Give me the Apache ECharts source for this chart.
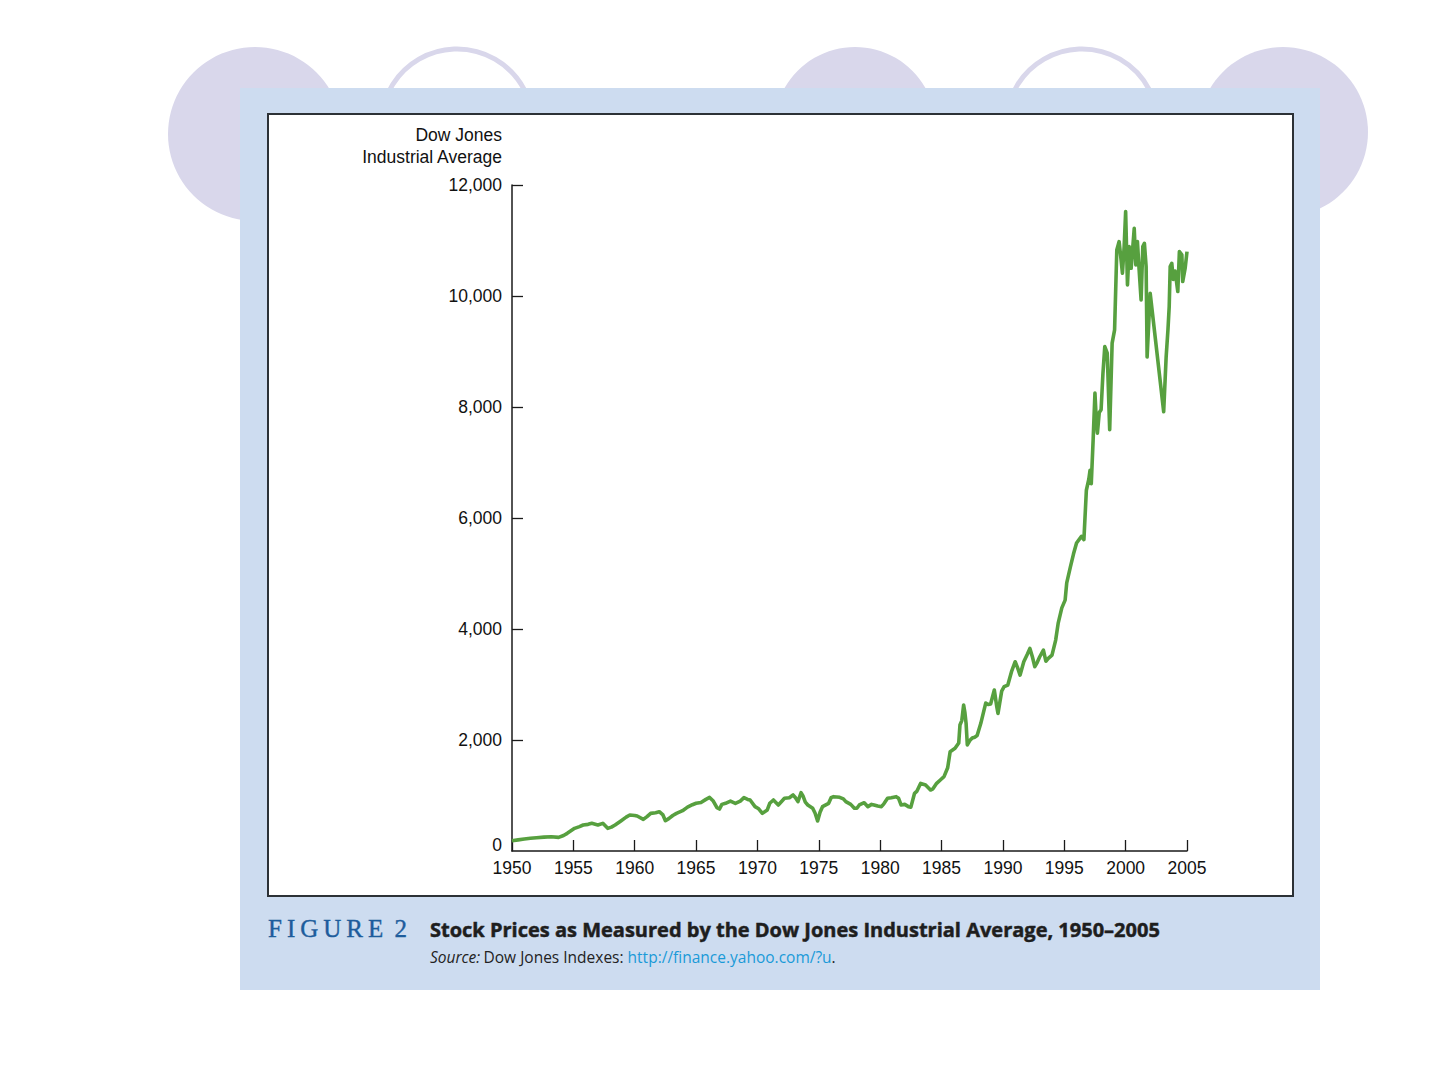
<!DOCTYPE html>
<html>
<head>
<meta charset="utf-8">
<title>Dow Jones Industrial Average, 1950-2005</title>
<script src="https://cdn.jsdelivr.net/npm/echarts@6/dist/echarts.min.js"></script>
<style>
  html, body { margin: 0; padding: 0; background: #fff; }
  #main { width: 1440px; height: 1080px; }
</style>
</head>
<body>
<div id="main"></div>
<script>
// years (fractional) and index level
var years = [
  1950.0, 1950.5, 1951.0, 1951.5, 1952.0, 1952.6, 1953.2, 1953.8, 1954.2, 1954.5,
  1955.1, 1955.5, 1955.8, 1956.2, 1956.5, 1957.0, 1957.4, 1957.8, 1958.1, 1958.4,
  1958.9, 1959.3, 1959.6, 1960.0, 1960.2, 1960.7, 1961.0, 1961.3, 1961.7, 1962.0,
  1962.3, 1962.5, 1962.8, 1963.1, 1963.4, 1963.9, 1964.3, 1964.7, 1965.0, 1965.4,
  1965.8, 1966.1, 1966.4, 1966.7, 1966.9, 1967.1, 1967.4, 1967.8, 1968.2, 1968.6,
  1968.9, 1969.2, 1969.4, 1969.8, 1970.1, 1970.4, 1970.8, 1971.0, 1971.3, 1971.7,
  1972.0, 1972.2, 1972.6, 1972.9, 1973.1, 1973.3, 1973.55, 1973.7, 1973.9, 1974.1,
  1974.5, 1974.7, 1974.9, 1975.1, 1975.3, 1975.8, 1976.0, 1976.2, 1976.7, 1977.0,
  1977.2, 1977.6, 1977.9, 1978.1, 1978.3, 1978.7, 1979.0, 1979.3, 1979.5, 1979.8,
  1980.1, 1980.3, 1980.6, 1980.9, 1981.3, 1981.5, 1981.7, 1982.0, 1982.3, 1982.5,
  1982.8, 1983.0, 1983.3, 1983.7, 1984.1, 1984.3, 1984.6, 1984.9, 1985.2, 1985.5,
  1985.7, 1986.1, 1986.4, 1986.5, 1986.65, 1986.8, 1986.9, 1987.0, 1987.1, 1987.3,
  1987.5, 1987.7, 1987.9, 1988.2, 1988.6, 1988.8, 1989.0, 1989.3, 1989.5, 1989.6,
  1989.9, 1990.1, 1990.4, 1990.7, 1991.0, 1991.2, 1991.4, 1991.7, 1992.0, 1992.2,
  1992.4, 1992.6, 1992.8, 1993.0, 1993.3, 1993.5, 1993.7, 1994.0, 1994.3, 1994.5,
  1994.8, 1995.07, 1995.2, 1995.5, 1995.75, 1996.0, 1996.4, 1996.6, 1996.8, 1997.0,
  1997.1, 1997.2, 1997.35, 1997.5, 1997.6, 1997.7, 1997.85, 1998.0, 1998.15, 1998.3,
  1998.5, 1998.7, 1998.9, 1999.1, 1999.28, 1999.47, 1999.6, 1999.74, 1999.88, 2000.0,
  2000.15, 2000.29, 2000.45, 2000.7, 2000.83, 2000.96, 2001.1, 2001.26, 2001.4, 2001.53,
  2001.67, 2001.75, 2002.0, 2003.1, 2003.3, 2003.45, 2003.55, 2003.63, 2003.76, 2003.88,
  2004.03, 2004.25, 2004.38, 2004.58, 2004.65, 2004.85, 2005.0
];
var djia = [
  186, 200, 216, 230, 240, 250, 258, 246, 280, 318,
  408, 440, 468, 480, 498, 468, 498, 408, 430, 468,
  546, 610, 648, 640, 630, 570, 620, 678, 690, 708,
  650, 546, 588, 640, 678, 726, 790, 834, 860, 875,
  930, 965, 900, 780, 756, 840, 860, 900, 859, 900,
  961, 930, 919, 799, 760, 679, 739, 860, 919, 829,
  900, 949, 960, 1009, 960, 889, 1050, 997, 880, 829,
  769, 680, 541, 700, 799, 859, 960, 979, 967, 940,
  889, 840, 769, 770, 829, 870, 799, 840, 829, 810,
  799, 850, 949, 960, 979, 950, 829, 840, 799, 790,
  1039, 1080, 1219, 1189, 1099, 1120, 1219, 1280, 1339, 1500,
  1790, 1850, 1945, 2270, 2350, 2630, 2500, 2300, 1910, 1990,
  2035, 2050, 2080, 2300, 2665, 2640, 2650, 2900, 2600, 2480,
  2880, 2960, 2990, 3230, 3410, 3300, 3170, 3410, 3550, 3650,
  3500, 3320, 3400, 3500, 3620, 3420, 3470, 3530, 3800, 4100,
  4380, 4520, 4830, 5120, 5350, 5550, 5670, 5610, 6500, 6700,
  6860, 6620, 7400, 8250, 7800, 7530, 7900, 7950, 8600, 9090,
  8970, 7590, 9150, 9390, 10830, 10980, 10710, 10410, 10890, 11520,
  10200, 10890, 10500, 11220, 10560, 10980, 10470, 9930, 10890, 10950,
  10530, 8900, 10050, 7915, 8900, 9400, 9810, 10530, 10590, 10300,
  10450, 10080, 10800, 10740, 10260, 10500, 10800
];
var yearTicks = { min: 1950, max: 2005, step: 5 };
var levelTicks = { min: 0, max: 12000, step: 2000 };

var points = years.map(function (y, i) { return [y, djia[i]]; });

var lavender = '#d9d7eb';
var sans = '"Liberation Sans", Arial, sans-serif';

var chart = echarts.init(document.getElementById('main'), null, { renderer: 'svg' });

var option = {
  backgroundColor: '#ffffff',
  animation: false,
  graphic: [
    // decorative circles behind the panel
    { type: 'circle', z: -30, shape: { cx: 255, cy: 134, r: 87 }, style: { fill: lavender } },
    { type: 'circle', z: -30, shape: { cx: 457, cy: 125, r: 76 }, style: { fill: 'none', stroke: lavender, lineWidth: 5 } },
    { type: 'circle', z: -30, shape: { cx: 855, cy: 128, r: 81 }, style: { fill: lavender } },
    { type: 'circle', z: -30, shape: { cx: 1082, cy: 125, r: 76 }, style: { fill: 'none', stroke: lavender, lineWidth: 5 } },
    { type: 'circle', z: -30, shape: { cx: 1283, cy: 132, r: 85 }, style: { fill: lavender } },
    // blue panel + white chart box
    { type: 'rect', z: -20, shape: { x: 240, y: 88, width: 1080, height: 902 }, style: { fill: '#cddcf0' } },
    { type: 'rect', z: -10, shape: { x: 268, y: 114, width: 1025, height: 782 }, style: { fill: '#ffffff', stroke: '#2c3136', lineWidth: 2 } },
    // axis title
    {
      type: 'text', x: 502, y: 124, z: 5,
      style: {
        text: 'Dow Jones\nIndustrial Average',
        font: '17.5px ' + sans, fill: '#111', align: 'right', verticalAlign: 'top', lineHeight: 22
      }
    },
    // the "0" sits a little above the x axis in the original
    {
      type: 'text', x: 502, y: 845, z: 5,
      style: { text: '0', font: '17.5px ' + sans, fill: '#111', align: 'right', verticalAlign: 'middle' }
    },
    // caption
    {
      type: 'text', x: 268, y: 928, z: 5,
      style: {
        text: 'F\u2009I\u2009G\u2009U\u2009R\u2009E\u2009 2',
        font: '25px "Liberation Serif", "Times New Roman", serif', fill: '#1d5c9c', verticalAlign: 'middle',
        stroke: '#1d5c9c', lineWidth: 0.4
      }
    },
    {
      type: 'text', x: 430, y: 929, z: 5,
      style: {
        text: 'Stock Prices as Measured by the Dow Jones Industrial Average, 1950\u20132005',
        font: 'bold 20px "Open Sans", sans-serif', fill: '#1e1e1e', verticalAlign: 'middle',
        stroke: '#1e1e1e', lineWidth: 0.5
      }
    },
    {
      type: 'text', x: 430, y: 957, z: 5,
      style: {
        text: '{i|Source:} {n|Dow Jones Indexes: }{l|http://finance.yahoo.com/?u}{n|.}',
        verticalAlign: 'middle',
        rich: {
          i: { font: 'italic 15.5px "Open Sans", sans-serif', fill: '#222' },
          n: { font: '15.5px "Open Sans", sans-serif', fill: '#222' },
          l: { font: '15.5px "Open Sans", sans-serif', fill: '#1a9ad8' }
        }
      }
    }
  ],
  grid: { left: 512, top: 185, width: 675, height: 666, containLabel: false },
  xAxis: {
    type: 'value',
    min: yearTicks.min, max: yearTicks.max, interval: yearTicks.step,
    axisLine: { show: true, lineStyle: { color: '#1a1a1a', width: 1.5 } },
    axisTick: { show: true, inside: true, length: 11, lineStyle: { color: '#1a1a1a', width: 1.3 } },
    axisLabel: { color: '#111', fontSize: 17.5, fontFamily: sans, margin: 8, formatter: function (v) { return String(v); } },
    splitLine: { show: false }
  },
  yAxis: {
    type: 'value',
    min: levelTicks.min, max: levelTicks.max, interval: levelTicks.step,
    axisLine: { show: true, lineStyle: { color: '#1a1a1a', width: 1.5 } },
    axisTick: { show: true, inside: true, length: 11, lineStyle: { color: '#1a1a1a', width: 1.3 } },
    axisLabel: {
      color: '#111', fontSize: 17.5, fontFamily: sans, margin: 10,
      showMinLabel: false,
      formatter: function (v) { return v.toLocaleString('en-US'); }
    },
    splitLine: { show: false }
  },
  series: [{
    name: 'Dow Jones Industrial Average',
    type: 'line',
    data: points,
    showSymbol: false,
    lineStyle: { color: '#57a03f', width: 3.6, join: 'round' },
    z: 3
  }]
};

chart.setOption(option);
</script>
</body>
</html>
